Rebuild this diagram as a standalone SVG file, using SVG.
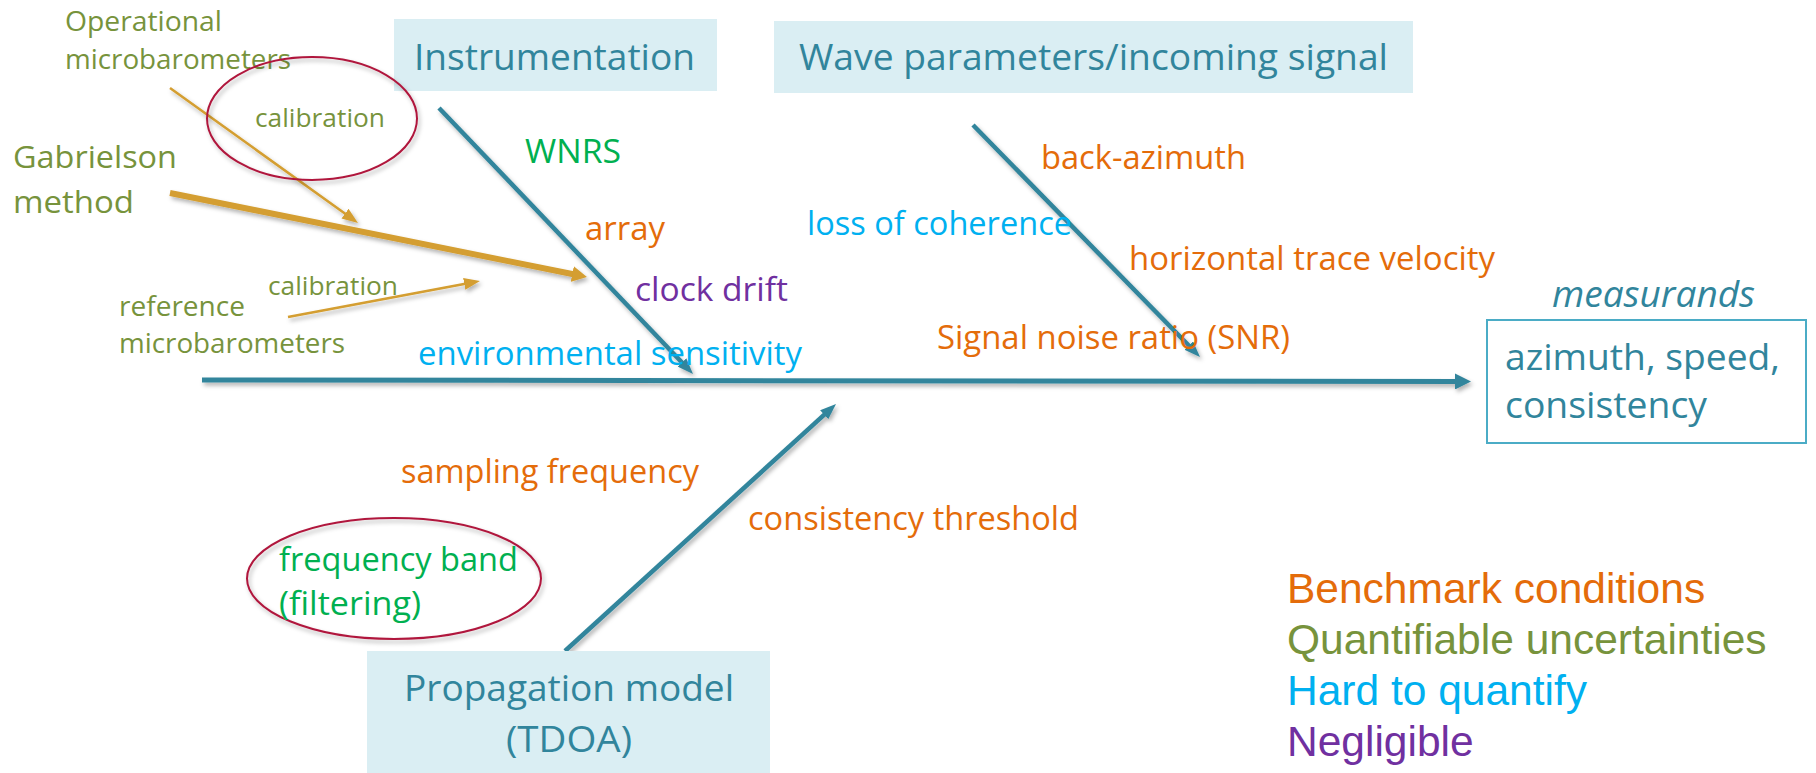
<svg xmlns="http://www.w3.org/2000/svg" width="1816" height="773" viewBox="0 0 1816 773">
<style>
  text { font-family: 'Open Sans', 'Noto Sans', sans-serif; }
  .leg { font-family: 'Liberation Sans', Arial, sans-serif; font-size: 42.5px; }
  .olive { fill: #77933C; }
  .orange { fill: #E46C0A; }
  .blue { fill: #00B0F0; }
  .purple { fill: #7030A0; }
  .green { fill: #00B050; }
  .teal { fill: #31859C; }
  .s25 { font-size: 25.2px; }
  .s27 { font-size: 27.4px; }
  .s32 { font-size: 32px; }
  .s36 { font-size: 36.5px; }
  .box { fill: #DAEEF3; }
  .ring { fill: none; stroke: #B0183D; stroke-width: 2; }
  .bone { stroke: #31859C; fill: none; }
  .gold { stroke: #D49E30; fill: none; }
</style>
<defs>
  <filter id="sh" x="-10%" y="-10%" width="130%" height="130%">
    <feDropShadow dx="2" dy="3" stdDeviation="2" flood-color="#000" flood-opacity="0.3"/>
  </filter>
  <marker id="aBig" markerUnits="userSpaceOnUse" markerWidth="16" markerHeight="16" refX="8" refY="8" orient="auto" viewBox="0 0 16 16">
    <path d="M0,0 L16,8 L0,16 z" fill="#31859C"/>
  </marker>
  <marker id="aTeal" markerUnits="userSpaceOnUse" markerWidth="16" markerHeight="12" refX="8" refY="6" orient="auto" viewBox="0 0 16 12">
    <path d="M0,0 L16,6 L0,12 z" fill="#31859C"/>
  </marker>
  <marker id="aGold" markerUnits="userSpaceOnUse" markerWidth="16" markerHeight="12" refX="8" refY="6" orient="auto" viewBox="0 0 16 12">
    <path d="M0,0 L16,6 L0,12 z" fill="#D49E30"/>
  </marker>
  <marker id="aGoldBig" markerUnits="userSpaceOnUse" markerWidth="15" markerHeight="16" refX="7.5" refY="8" orient="auto" viewBox="0 0 15 16">
    <path d="M0,0 L15,8 L0,16 z" fill="#D49E30"/>
  </marker>
</defs>

<rect width="1816" height="773" fill="#FFFFFF"/>

<g id="connectors" filter="url(#sh)">
  <line class="bone" x1="202" y1="380" x2="1463" y2="381.5" stroke-width="5" marker-end="url(#aBig)"/>
  <line class="bone" x1="439" y1="108" x2="687.5" y2="368.2" stroke-width="4.5" marker-end="url(#aTeal)"/>
  <line class="bone" x1="973" y1="125" x2="1194.4" y2="351.3" stroke-width="4.5" marker-end="url(#aTeal)"/>
  <line class="bone" x1="565" y1="651" x2="830.1" y2="409.4" stroke-width="4.5" marker-end="url(#aTeal)"/>
  <line class="gold" x1="170" y1="88" x2="351.5" y2="218.3" stroke-width="2.5" marker-end="url(#aGold)"/>
  <line class="gold" x1="170" y1="193" x2="579.6" y2="275.5" stroke-width="6" marker-end="url(#aGoldBig)"/>
  <line class="gold" x1="288" y1="317" x2="472.1" y2="282.5" stroke-width="2.5" marker-end="url(#aGold)"/>
</g>

<g id="node-instrumentation">
  <rect class="box" x="394" y="19" width="323" height="72"/>
  <text class="teal s36" x="414" y="70" textLength="281" lengthAdjust="spacingAndGlyphs">Instrumentation</text>
</g>

<g id="node-wave">
  <rect class="box" x="774" y="21" width="639" height="72"/>
  <text class="teal s36" x="799" y="70" textLength="589" lengthAdjust="spacingAndGlyphs">Wave parameters/incoming signal</text>
</g>

<g id="node-propagation">
  <rect class="box" x="367" y="651" width="403" height="122"/>
  <text class="teal s36" x="404" y="701" textLength="330" lengthAdjust="spacingAndGlyphs">Propagation model</text>
  <text class="teal s36" x="506" y="752" textLength="126" lengthAdjust="spacingAndGlyphs">(TDOA)</text>
</g>

<g id="node-measurands">
  <text x="1552" y="307" font-family="'Liberation Sans', Arial, sans-serif" font-style="italic" font-size="37" fill="#31859C">measurands</text>
  <rect x="1487" y="320" width="319" height="123" fill="#FFFFFF" stroke="#4BACC6" stroke-width="2"/>
  <text class="teal s36" x="1505" y="370" textLength="275" lengthAdjust="spacingAndGlyphs">azimuth, speed,</text>
  <text class="teal s36" x="1505" y="418" textLength="202" lengthAdjust="spacingAndGlyphs">consistency</text>
</g>

<g id="node-operational">
  <text class="olive s27" x="65" y="31" textLength="157" lengthAdjust="spacingAndGlyphs">Operational</text>
  <text class="olive s27" x="65" y="69" textLength="226" lengthAdjust="spacingAndGlyphs">microbarometers</text>
</g>

<g id="node-calibration-top">
  <ellipse class="ring" cx="312" cy="118.5" rx="105" ry="61.5" filter="url(#sh)"/>
  <text class="olive s25" x="255" y="127" textLength="130" lengthAdjust="spacingAndGlyphs">calibration</text>
</g>

<g id="node-gabrielson">
  <text class="olive" font-size="31.8" x="13" y="168" textLength="164" lengthAdjust="spacingAndGlyphs">Gabrielson</text>
  <text class="olive" font-size="31.8" x="13" y="213" textLength="121" lengthAdjust="spacingAndGlyphs">method</text>
</g>

<g id="node-calibration-low">
  <text class="olive s25" x="268" y="295" textLength="130" lengthAdjust="spacingAndGlyphs">calibration</text>
</g>

<g id="node-reference">
  <text class="olive s27" x="119" y="316" textLength="126" lengthAdjust="spacingAndGlyphs">reference</text>
  <text class="olive s27" x="119" y="353" textLength="226" lengthAdjust="spacingAndGlyphs">microbarometers</text>
</g>

<g id="node-wnrs"><text class="green s32" x="525" y="163" textLength="96" lengthAdjust="spacingAndGlyphs">WNRS</text></g>
<g id="node-array"><text class="orange s32" x="585" y="240" textLength="80" lengthAdjust="spacingAndGlyphs">array</text></g>
<g id="node-clock"><text class="purple s32" x="635" y="301" textLength="153" lengthAdjust="spacingAndGlyphs">clock drift</text></g>
<g id="node-env"><text class="blue s32" x="418" y="365" textLength="384" lengthAdjust="spacingAndGlyphs">environmental sensitivity</text></g>
<g id="node-loss"><text class="blue s32" x="807" y="235" textLength="265" lengthAdjust="spacingAndGlyphs">loss of coherence</text></g>
<g id="node-backaz"><text class="orange s32" x="1041" y="169" textLength="205" lengthAdjust="spacingAndGlyphs">back-azimuth</text></g>
<g id="node-htv"><text class="orange s32" x="1129" y="270" textLength="366" lengthAdjust="spacingAndGlyphs">horizontal trace velocity</text></g>
<g id="node-snr"><text class="orange s32" x="937" y="349" textLength="353" lengthAdjust="spacingAndGlyphs">Signal noise ratio (SNR)</text></g>
<g id="node-sampling"><text class="orange s32" x="401" y="483" textLength="298" lengthAdjust="spacingAndGlyphs">sampling frequency</text></g>
<g id="node-threshold"><text class="orange s32" x="748" y="530" textLength="331" lengthAdjust="spacingAndGlyphs">consistency threshold</text></g>

<g id="node-band">
  <ellipse class="ring" cx="394" cy="578.5" rx="147" ry="60.5" filter="url(#sh)"/>
  <text class="green s32" x="279" y="571" textLength="239" lengthAdjust="spacingAndGlyphs">frequency band</text>
  <text class="green s32" x="279" y="615" textLength="142" lengthAdjust="spacingAndGlyphs">(filtering)</text>
</g>

<g id="legend">
  <text class="leg" x="1287" y="603" fill="#E46C0A">Benchmark conditions</text>
  <text class="leg" x="1287" y="654" fill="#77933C">Quantifiable uncertainties</text>
  <text class="leg" x="1287" y="705" fill="#00B0F0">Hard to quantify</text>
  <text class="leg" x="1287" y="756" fill="#7030A0">Negligible</text>
</g>
</svg>
